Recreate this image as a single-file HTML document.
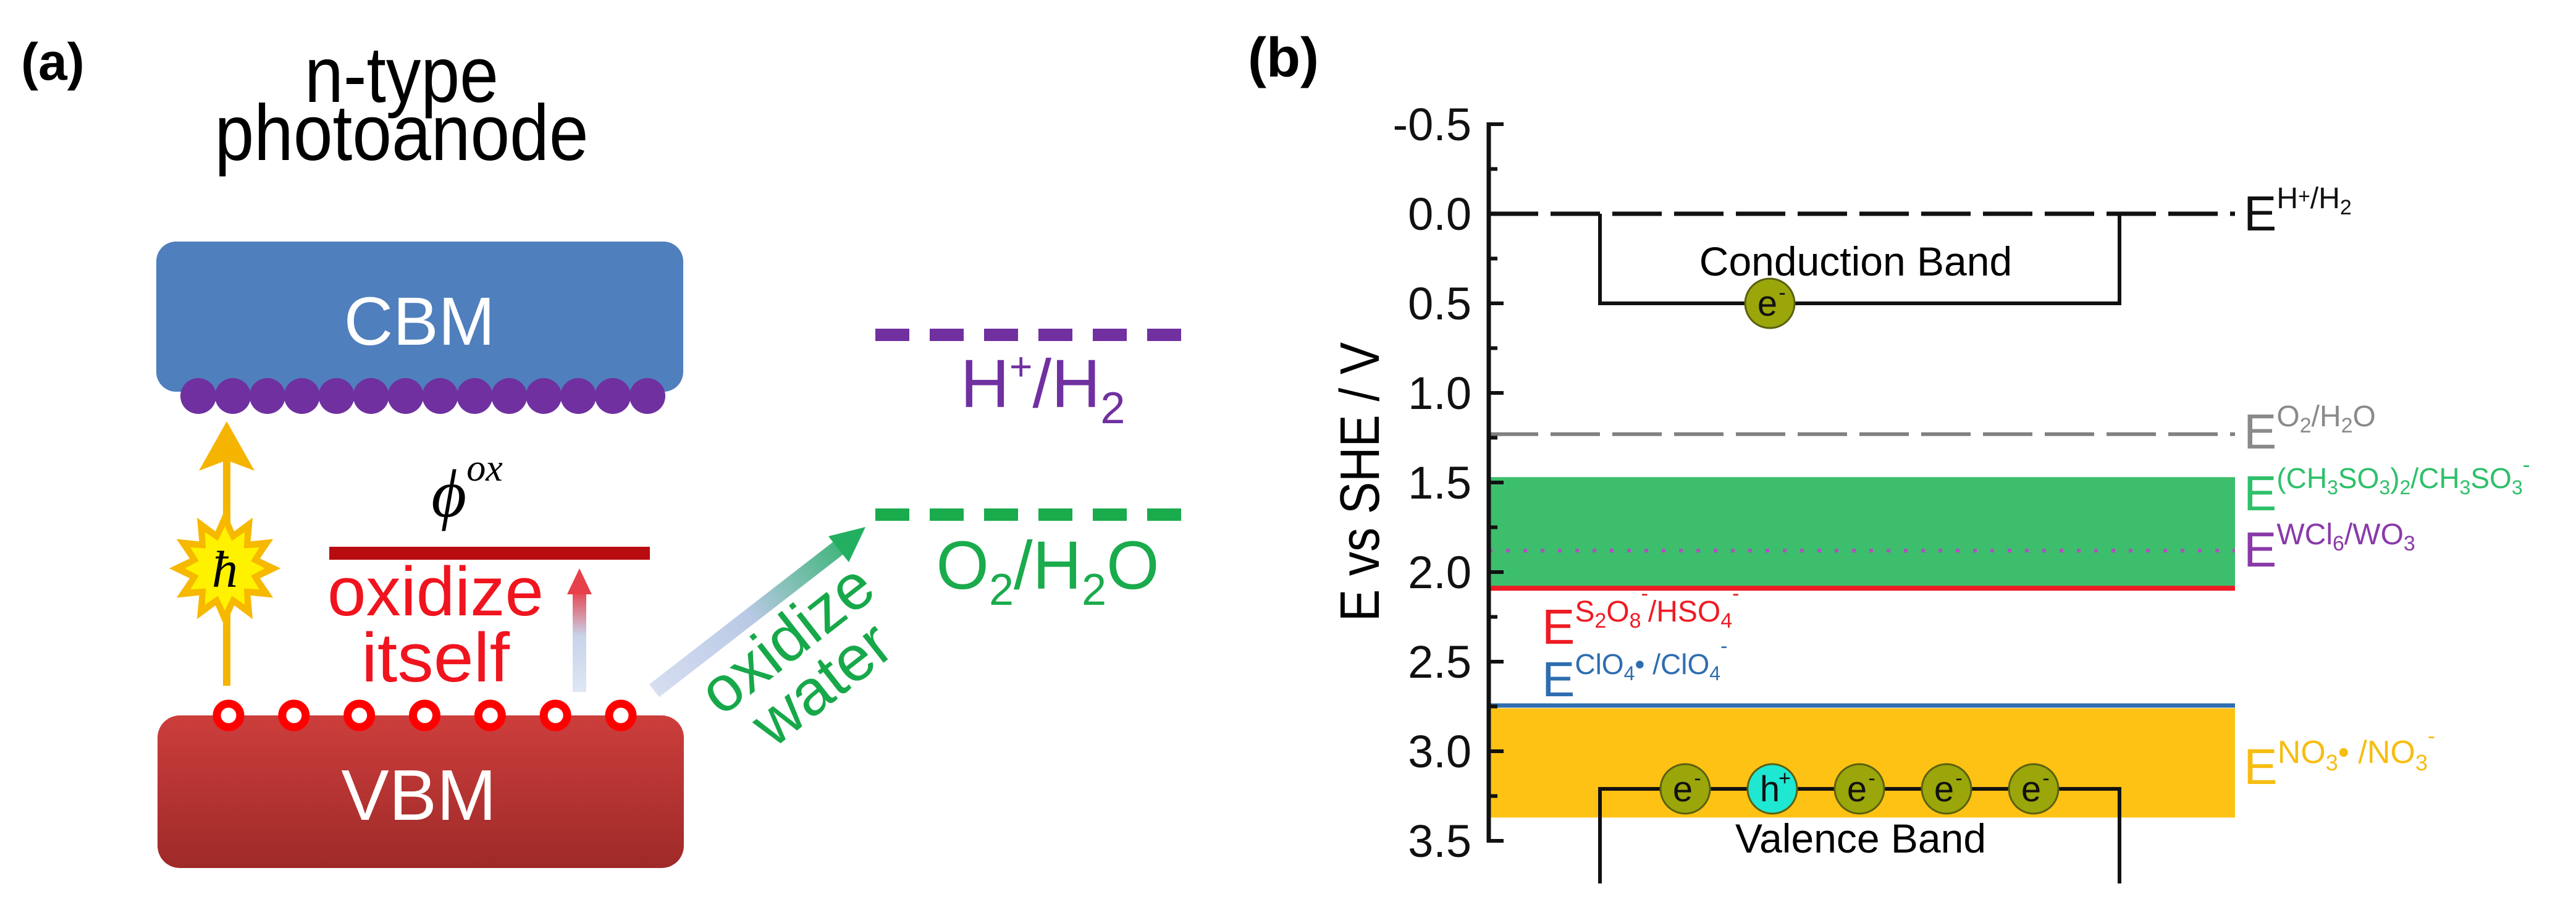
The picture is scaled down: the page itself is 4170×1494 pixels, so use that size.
<!DOCTYPE html>
<html><head><meta charset="utf-8">
<style>
html,body{margin:0;padding:0;background:#fff;}
svg{display:block;font-family:"Liberation Sans",Arial,sans-serif;}
</style></head>
<body>
<svg id="fig" width="4170" height="1494" viewBox="0 0 4170 1494" xmlns="http://www.w3.org/2000/svg">
<defs>
  <linearGradient id="vbmGrad" x1="0" y1="0" x2="0" y2="1">
    <stop offset="0" stop-color="#cc3e3c"/><stop offset="1" stop-color="#9e2a28"/>
  </linearGradient>
  <linearGradient id="selfArrowGrad" x1="0" y1="1" x2="0" y2="0">
    <stop offset="0" stop-color="#dfe6f4"/><stop offset="0.55" stop-color="#c8d3ea"/><stop offset="1" stop-color="#e8404a"/>
  </linearGradient>
  <linearGradient id="waterArrowGrad" x1="1059" y1="1118" x2="1401" y2="853" gradientUnits="userSpaceOnUse">
    <stop offset="0" stop-color="#d6def0"/><stop offset="0.45" stop-color="#b9c9e6"/><stop offset="1" stop-color="#22b060"/>
  </linearGradient>
</defs>

<!-- ============ PANEL A ============ -->
<g>
  <text x="34" y="129" font-size="84" font-weight="bold">(a)</text>
  <text x="650" y="165" font-size="128" text-anchor="middle" textLength="314" lengthAdjust="spacingAndGlyphs">n-type</text>
  <text x="650" y="259" font-size="128" text-anchor="middle" textLength="605" lengthAdjust="spacingAndGlyphs">photoanode</text>

  <rect x="253" y="391" width="853" height="243" rx="32" fill="#4f7fbd"/>
  <text x="679" y="558" font-size="110" fill="#fff" text-anchor="middle">CBM</text>
  <g id="purpleDots"></g>

  <rect x="255" y="1158" width="852" height="247" rx="36" fill="url(#vbmGrad)"/>
  <text x="678" y="1327" font-size="116" fill="#fff" text-anchor="middle">VBM</text>
  <g id="redHoles"></g>

  <!-- yellow excitation arrow -->
  <g>
    <line x1="367" y1="1110" x2="367" y2="740" stroke="#f5b400" stroke-width="12"/>
    <polygon points="367,682 322,762 367,745 412,762" fill="#f5b400"/>
  </g>
  <g>
    <polygon id="star" fill="#f7b800"/>
    <polygon id="starInner" fill="#fff200"/>
    <text x="364" y="950" font-size="84" font-style="italic" font-family="Liberation Serif,serif" text-anchor="middle">ħ</text>
  </g>

  <text x="756" y="836" font-size="110" font-style="italic" font-family="Liberation Serif,serif" text-anchor="middle">ϕ<tspan font-size="62" dy="-58">ox</tspan></text>
  <rect x="533" y="885" width="519" height="21" fill="#b80c10"/>
  <text x="705" y="996" font-size="112" fill="#f0141e" text-anchor="middle" textLength="350" lengthAdjust="spacingAndGlyphs">oxidize</text>
  <text x="705" y="1103" font-size="112" fill="#f0141e" text-anchor="middle" textLength="240" lengthAdjust="spacingAndGlyphs">itself</text>
  <g>
    <rect x="927" y="955" width="22" height="165" fill="url(#selfArrowGrad)"/>
    <polygon points="938,920 918,962 958,962" fill="#e8404a"/>
  </g>

  <g>
    <line x1="1059" y1="1118" x2="1370" y2="877" stroke="url(#waterArrowGrad)" stroke-width="26"/>
    <polygon points="1401,853 1341,868 1374,910" fill="#22b060"/>
  </g>
  <g transform="translate(1300,1068) rotate(-38)">
    <text x="0" y="-8" font-size="104" fill="#17a84a" text-anchor="middle">oxidize</text>
    <text x="0" y="84" font-size="104" fill="#17a84a" text-anchor="middle">water</text>
  </g>

  <line x1="1417" y1="542" x2="1914" y2="542" stroke="#7030a0" stroke-width="20" stroke-dasharray="55 33"/>
  <text x="1688" y="659" font-size="110" fill="#7030a0" text-anchor="middle">H<tspan font-size="64" dy="-44">+</tspan><tspan dy="44">/H</tspan><tspan font-size="72" dy="26">2</tspan></text>
  <line x1="1417" y1="833" x2="1914" y2="833" stroke="#1aab4c" stroke-width="20" stroke-dasharray="55 33"/>
  <text x="1696" y="953" font-size="110" fill="#1aab4c" text-anchor="middle">O<tspan font-size="72" dy="26">2</tspan><tspan dy="-26">/H</tspan><tspan font-size="72" dy="26">2</tspan><tspan dy="-26">O</tspan></text>
</g>

<!-- ============ PANEL B ============ -->
<g id="panelB">
  <text x="2020" y="124" font-size="90" font-weight="bold">(b)</text>
  <text transform="translate(2232,780) rotate(-90)" font-size="90" text-anchor="middle" textLength="452" lengthAdjust="spacingAndGlyphs">E vs SHE / V</text>
  <g id="bands"></g>
  <g id="levels"></g>
  <g id="boxes"></g>
  <g id="axis"></g>
  <g id="carriers"></g>

  <text x="3004" y="446" font-size="66" text-anchor="middle">Conduction Band</text>
  <text x="3012" y="1380" font-size="66" text-anchor="middle">Valence Band</text>

  <!-- right labels -->
  <text x="3632" y="373" font-size="80" fill="#111">E<tspan font-size="48" dy="-36">H</tspan><tspan font-size="34" dy="-8">+</tspan><tspan font-size="48" dy="8">/H</tspan><tspan font-size="34" dy="10">2</tspan></text>
  <text x="3632" y="726" font-size="80" fill="#8a8a8a">E<tspan font-size="48" dy="-36">O</tspan><tspan font-size="34" dy="10">2</tspan><tspan font-size="48" dy="-10">/H</tspan><tspan font-size="34" dy="10">2</tspan><tspan font-size="48" dy="-10">O</tspan></text>
  <text x="3632" y="826" font-size="80" fill="#2ec06a">E<tspan font-size="46" dy="-36">(CH</tspan><tspan font-size="32" dy="10">3</tspan><tspan font-size="46" dy="-10">SO</tspan><tspan font-size="32" dy="10">3</tspan><tspan font-size="46" dy="-10">)</tspan><tspan font-size="32" dy="10">2</tspan><tspan font-size="46" dy="-10">/CH</tspan><tspan font-size="32" dy="10">3</tspan><tspan font-size="46" dy="-10">SO</tspan><tspan font-size="32" dy="10">3</tspan><tspan font-size="36" dy="-36">-</tspan></text>
  <text x="3632" y="917" font-size="80" fill="#8a3aa8">E<tspan font-size="48" dy="-36">WCl</tspan><tspan font-size="34" dy="10">6</tspan><tspan font-size="48" dy="-10">/WO</tspan><tspan font-size="34" dy="10">3</tspan></text>
  <text x="3632" y="1269" font-size="82" fill="#f6bd12">E<tspan font-size="52" dy="-34">NO</tspan><tspan font-size="36" dy="12">3</tspan><tspan font-size="52" dy="-12">• /NO</tspan><tspan font-size="36" dy="12">3</tspan><tspan font-size="36" dy="-44">-</tspan></text>
  <text x="2496" y="1042" font-size="80" fill="#ee1c24">E<tspan font-size="48" dy="-36">S</tspan><tspan font-size="34" dy="10">2</tspan><tspan font-size="48" dy="-10">O</tspan><tspan font-size="34" dy="10">8</tspan><tspan font-size="34" dy="-44">-</tspan><tspan font-size="48" dy="34">/HSO</tspan><tspan font-size="34" dy="10">4</tspan><tspan font-size="34" dy="-44">-</tspan></text>
  <text x="2496" y="1127" font-size="80" fill="#2e6db0">E<tspan font-size="46" dy="-36">ClO</tspan><tspan font-size="32" dy="10">4</tspan><tspan font-size="46" dy="-10">• /ClO</tspan><tspan font-size="32" dy="10">4</tspan><tspan font-size="34" dy="-44">-</tspan></text>
</g>

<script>
// ---------- Panel B data ----------
const yTicks = [-0.5, 0.0, 0.5, 1.0, 1.5, 2.0, 2.5, 3.0, 3.5];
const tickLabels = ["-0.5","0.0","0.5","1.0","1.5","2.0","2.5","3.0","3.5"];
const bandNames = ["ch3so3-band", "no3-band"];
const bandTop = [1.47, 2.76];
const bandBottom = [2.09, 3.37];
const bandColors = ["#3dbe6c", "#fdc214"];
const levelNames = ["h-h2-line", "o2-h2o-line", "wcl6-wo3-line", "s2o8-hso4-line", "clo4-line"];
const levelValues = [0.0, 1.23, 1.88, 2.09, 2.745];
const levelColors = ["#111111", "#808080", "#b050c0", "#ee1c24", "#2e6db0"];
const levelDash = ["80 20", "80 20", "6 22", "", ""];
const levelWidth = [7, 6, 6, 8, 7];
const cbEdge = 0.5;
const vbEdge = 3.21;
const carrierLabels = ["e-", "h+", "e-", "e-", "e-"];

// ---------- Panel A data ----------
const cbmElectronCount = 14;
const vbmHoleCount = 7;

// axis geometry
const axX = 2410, xEnd = 3618, y0 = 346, pxPerV = 290;
function yS(v){ return y0 + v * pxPerV; }
const ns = "http://www.w3.org/2000/svg";
function mk(tag, attrs, parent){
  const e = document.createElementNS(ns, tag);
  for (const k in attrs) e.setAttribute(k, attrs[k]);
  parent.appendChild(e);
  return e;
}

// bands
const bandsG = document.getElementById('bands');
bandTop.forEach((t, i) => {
  const r = mk('rect', {x: axX, y: yS(t), width: xEnd - axX, height: yS(bandBottom[i]) - yS(t), fill: bandColors[i]}, bandsG);
  
  
});

// levels
const levelsG = document.getElementById('levels');
levelValues.forEach((v, i) => {
  const l = mk('line', {x1: axX, x2: xEnd, y1: yS(v), y2: yS(v), stroke: levelColors[i], 'stroke-width': levelWidth[i]}, levelsG);
  if (levelDash[i]) l.setAttribute('stroke-dasharray', levelDash[i]);
  
  
});

// band boxes
const boxesG = document.getElementById('boxes');
const cbPath = mk('path', {d: `M2590 ${yS(0)} V${yS(cbEdge)} H3431 V${yS(0)}`, fill: 'none', stroke: '#111', 'stroke-width': 6}, boxesG);


const vbPath = mk('path', {d: `M2590 1430 V${yS(vbEdge)} H3431 V1430`, fill: 'none', stroke: '#111', 'stroke-width': 6}, boxesG);



// axis
const axisG = document.getElementById('axis');
const axLine = mk('line', {x1: axX, x2: axX, y1: yS(-0.5) - 3, y2: yS(3.5) + 3, stroke: '#111', 'stroke-width': 7}, axisG);


yTicks.forEach((v, i) => {
  const t = mk('line', {x1: axX, x2: axX + 24, y1: yS(v), y2: yS(v), stroke: '#111', 'stroke-width': 6}, axisG);
  
  
  const m = mk('line', {x1: axX, x2: axX + 14, y1: yS(v + 0.25), y2: yS(v + 0.25), stroke: '#111', 'stroke-width': 6}, axisG);
  if (i === yTicks.length - 1) m.setAttribute('visibility', 'hidden');
  
  
  const tx = mk('text', {x: 2382, y: yS(v) + 26, 'font-size': 74, 'text-anchor': 'end', fill: '#111'}, axisG);
  tx.textContent = tickLabels[i];
  
  
});

// carriers
const carG = document.getElementById('carriers');
function carrier(cx, cy, lab){
  const g = mk('g', {}, carG);
  
  
  mk('circle', {cx: cx, cy: cy, r: 40, fill: lab === 'h+' ? '#1ee8d2' : '#9aa60a', stroke: '#5a6010', 'stroke-width': 3}, g);
  const t = mk('text', {x: cx - 4, y: cy + 20, 'font-size': 58, 'text-anchor': 'middle', fill: '#111'}, g);
  t.textContent = lab[0];
  const s = mk('text', {x: cx + 20, y: cy - 6, 'font-size': 34, 'text-anchor': 'middle', fill: '#111'}, g);
  s.textContent = lab[1] === '-' ? '-' : '+';
}
carrier(2865, yS(cbEdge), 'e-');
carrierLabels.forEach((lab, i) => carrier(2728 + i * 141, yS(vbEdge), lab));

// panel A: CBM electrons
const pd = document.getElementById('purpleDots');
for (let i = 0; i < cbmElectronCount; i++){
  const c = mk('circle', {cx: 321 + i * (1048 - 321) / (cbmElectronCount - 1), cy: 641, r: 29, fill: '#7030a0'}, pd);
  
  
}
// VBM holes
const rh = document.getElementById('redHoles');
for (let i = 0; i < vbmHoleCount; i++){
  const c = mk('circle', {cx: 370 + i * (1005 - 370) / (vbmHoleCount - 1), cy: 1158, r: 19, fill: '#fff', stroke: '#ff0000', 'stroke-width': 13}, rh);
  
  
}
// star
function starPts(cx, cy, ro, ri, n){
  const p = [];
  for (let i = 0; i < 2 * n; i++){
    const a = Math.PI * i / n - Math.PI / 2;
    const r = i % 2 ? ri : ro;
    p.push((cx + r * Math.cos(a) * 0.95).toFixed(1) + ',' + (cy + r * Math.sin(a)).toFixed(1));
  }
  return p.join(' ');
}
document.getElementById('star').setAttribute('points', starPts(364, 920, 95, 62, 12));
document.getElementById('starInner').setAttribute('points', starPts(364, 920, 68, 46, 12));
</script>
</svg>
</body></html>
